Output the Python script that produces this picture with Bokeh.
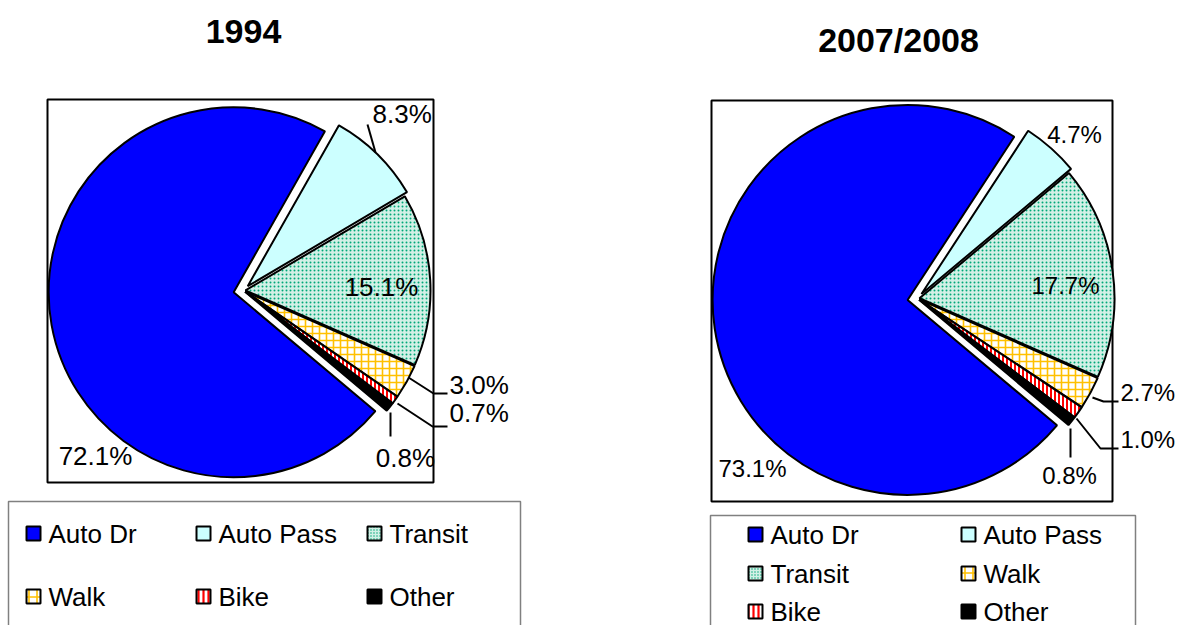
import numpy as np
from bokeh.plotting import figure
from bokeh.models import Range1d, ColumnDataSource
from bokeh.embed import file_html
from bokeh.resources import INLINE
from bokeh.core.properties import value

# ---------------- data ----------------
modes = ["Auto Dr", "Auto Pass", "Transit", "Walk", "Bike", "Other"]
share_1994 = [72.1, 8.3, 15.1, 3.0, 0.7, 0.8]
share_2008 = [73.1, 4.7, 17.7, 2.7, 1.0, 0.8]
titles = ["1994", "2007/2008"]

# ---------------- styles ----------------
fills = ["#0000ff", "#ccffff", "#d2f0e6", "white", "white", "black"]
hatches = ["blank", "blank", "dot", "cross", "vertical_line", "blank"]
hatch_colors = ["#0000ff", "#ccffff", "#00a878", "#ffc000", "#ff0000", "black"]
hatch_scales = [4, 4, 4, 7, 4, 4]
hatch_weights = [1, 1, 2.5, 1.6, 2, 1]
explode = [10, 6, 2, 2, 2, 2]
FIRST_ANGLE = 130  # degrees clockwise from 12 o'clock

FONT = value("Liberation Sans")

W, H = 1179, 625
OX, OY = 0, 0
p = figure(width=W, height=H, x_range=Range1d(OX, OX + W), y_range=Range1d(-(OY + H), -OY),
           output_backend="svg", toolbar_location=None, min_border=0,
           x_axis_type=None, y_axis_type=None)
p.grid.visible = False
p.outline_line_color = None
p.background_fill_color = "white"


def Y(v):
    return -np.asarray(v, dtype=float)


def draw_pie(vals, cx, cy, R, box, labels, label_size, leaders):
    l, t, r, b = box
    p.quad(left=[l], right=[r], top=Y([t]), bottom=Y([b]), fill_color=None,
           line_color="black", line_width=2)
    vals = np.asarray(vals, dtype=float)
    cum = FIRST_ANGLE + 3.6 * np.concatenate([[0], np.cumsum(vals)])
    a, bb = cum[:-1], cum[1:]
    mid = np.radians((a + bb) / 2)
    ex = np.asarray(explode, dtype=float)
    xs = cx + ex * np.sin(mid)
    ys = -cy + ex * np.cos(mid)
    src = ColumnDataSource(dict(
        x=xs, y=ys,
        start=np.radians(90 - bb), end=np.radians(90 - a),
        fill=fills, hatch=hatches, hcol=hatch_colors, hscale=hatch_scales, hw=hatch_weights,
    ))
    p.wedge(x="x", y="y", radius=R, start_angle="start", end_angle="end", direction="anticlock",
            source=src, fill_color="fill", hatch_pattern="hatch", hatch_color="hcol",
            hatch_scale="hscale", hatch_weight="hw", line_color="black", line_width=2)
    if leaders:
        p.multi_line(xs=[list(ld[0]) for ld in leaders], ys=[list(Y(ld[1])) for ld in leaders],
                     line_color="black", line_width=2)
    tx = [lb[0] for lb in labels]
    ty = Y([lb[1] for lb in labels])
    al = [lb[2] for lb in labels]
    txt = [f"{v:.1f}%" for v in vals]
    p.text(x=tx, y=ty, text=txt, text_align=al, text_baseline="middle",
           text_font=FONT, text_font_size=label_size, text_color="black")


# Left pie (1994)
draw_pie(share_1994, 243, 290, 185, (47, 99, 433, 482),
         labels=[(95, 455, "center"), (372, 113, "left"), (381, 286, "center"),
                 (449, 384, "left"), (449, 412, "left"), (405, 457, "center")],
         label_size="26px",
         leaders=[([375, 367], [152, 124]),
                  ([408, 433, 447], [377, 393, 393]),
                  ([397, 432, 447], [403, 426, 426]),
                  ([390, 390], [412, 436])])

# Right pie (2007/2008)
draw_pie(share_2008, 917, 298, 195, (711, 100, 1112, 501),
         labels=[(752, 468, "center"), (1074, 134, "center"), (1065, 285, "center"),
                 (1120, 392, "left"), (1120, 439, "left"), (1069, 475, "center")],
         label_size="24px",
         leaders=[([1092, 1103, 1118], [397, 401, 401]),
                  ([1076, 1100, 1118], [418, 448, 448]),
                  ([1070, 1070], [428, 457])])

# Titles
p.text(x=[243, 898], y=Y([31, 39]), text=titles, text_align="center", text_baseline="middle",
       text_font=FONT, text_font_size="34px", text_font_style="bold", text_color="black")


def draw_legend(box, positions):
    l, t, r, b = box
    p.quad(left=[l], right=[r], top=Y([t]), bottom=Y([b]), fill_color=None,
           line_color="#808080", line_width=1.5)
    mx = [q[0] for q in positions]
    my = Y([q[1] for q in positions])
    src = ColumnDataSource(dict(x=mx, y=my, fill=fills, hatch=hatches, hcol=hatch_colors,
                                hscale=[4, 4, 3, 8, 5, 4], hw=[1, 1, 2.0, 1.6, 2.2, 1]))
    p.rect(x="x", y="y", width=14, height=14, source=src, fill_color="fill",
           hatch_pattern="hatch", hatch_color="hcol", hatch_scale="hscale", hatch_weight="hw",
           line_color="black", line_width=2)
    p.text(x=[q[0] + 15 for q in positions], y=my, text=modes, text_align="left",
           text_baseline="middle", text_font=FONT, text_font_size="26px", text_color="black")


draw_legend((8, 501, 520, 640),
            [(33, 533), (203, 533), (374, 533), (33, 596), (203, 596), (374, 596)])
draw_legend((710, 515, 1135, 640),
            [(755, 534), (968, 534), (755, 573), (968, 573), (755, 611), (968, 611)])

open("out.html", "w").write(file_html(p, INLINE))
